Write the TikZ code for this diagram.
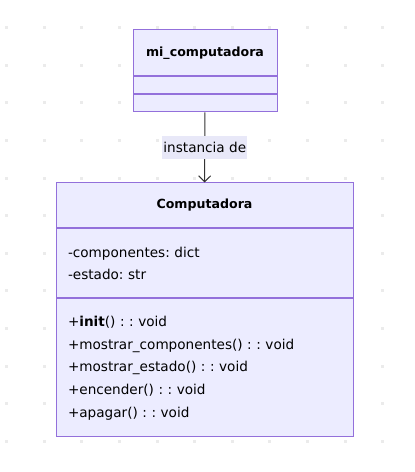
\documentclass[tikz,border=0pt]{standalone}
\usepackage{fontspec}
\setmainfont{DejaVu Sans}
\frenchspacing
\usetikzlibrary{positioning, arrows.meta}
\definecolor{classfill}{HTML}{ECECFF}
\definecolor{classborder}{HTML}{9370DB}
\definecolor{edgegray}{HTML}{333333}
\definecolor{labelfill}{HTML}{E8E8F8}
\definecolor{griddot}{HTML}{EBEBEB}

\begin{document}
\begin{tikzpicture}[
        x=1pt, y=1pt,
        % Stili globali
        every node/.style={font=\fontsize{13.6}{22.7}\selectfont, inner sep=0pt},
        % Stili per le classi
        classpart/.style={draw=classborder, fill=classfill, line width=1pt},
        classtitle/.style={classpart, font=\fontsize{12.6}{15}\selectfont\bfseries},
        membertext/.style={classpart, align=left, inner xsep=12pt, text width=273pt},
        edgelabel/.style={fill=labelfill, text=black, inner xsep=1pt, minimum height=23pt}
    ]
    \useasboundingbox (0,0) rectangle (415,472);

    % griglia di punti sullo sfondo
    \foreach \i in {0,...,10}
        \foreach \j in {0,...,11}
            \fill[griddot] ({5.2+37.6*\i},{442.8-37.6*\j}) rectangle ++(3,3);

    % classe mi_computadora
    \node (mi_title) [classtitle, minimum width=144pt, minimum height=46pt] at (205,419) {mi\_computadora};
    \node (mi_attr) [classpart, minimum width=144pt, minimum height=17pt, below=0pt of mi_title] {};
    \node (mi_meth) [classpart, minimum width=144pt, minimum height=17pt, below=0pt of mi_attr] {};

    % classe Computadora
    \node (comp_title) [classtitle, minimum width=297pt, minimum height=45pt] at (204.5,266.5) {Computadora};
    \node (comp_attr) [membertext, minimum height=69pt, below=0pt of comp_title]
        {-componentes: dict\\-estado: str};
    \node (comp_meth) [membertext, minimum height=138pt, below=0pt of comp_attr]
        {+\textbf{init}() : : void\\
         +mostrar\_componentes() : : void\\
         +mostrar\_estado() : : void\\
         +encender() : : void\\
         +apagar() : : void};

    \draw[edgegray, line width=1pt, -{Straight Barb[length=6pt, width=12pt]}]
        (mi_meth) -- node[edgelabel] {instancia de} (comp_title);
\end{tikzpicture}
\end{document}
